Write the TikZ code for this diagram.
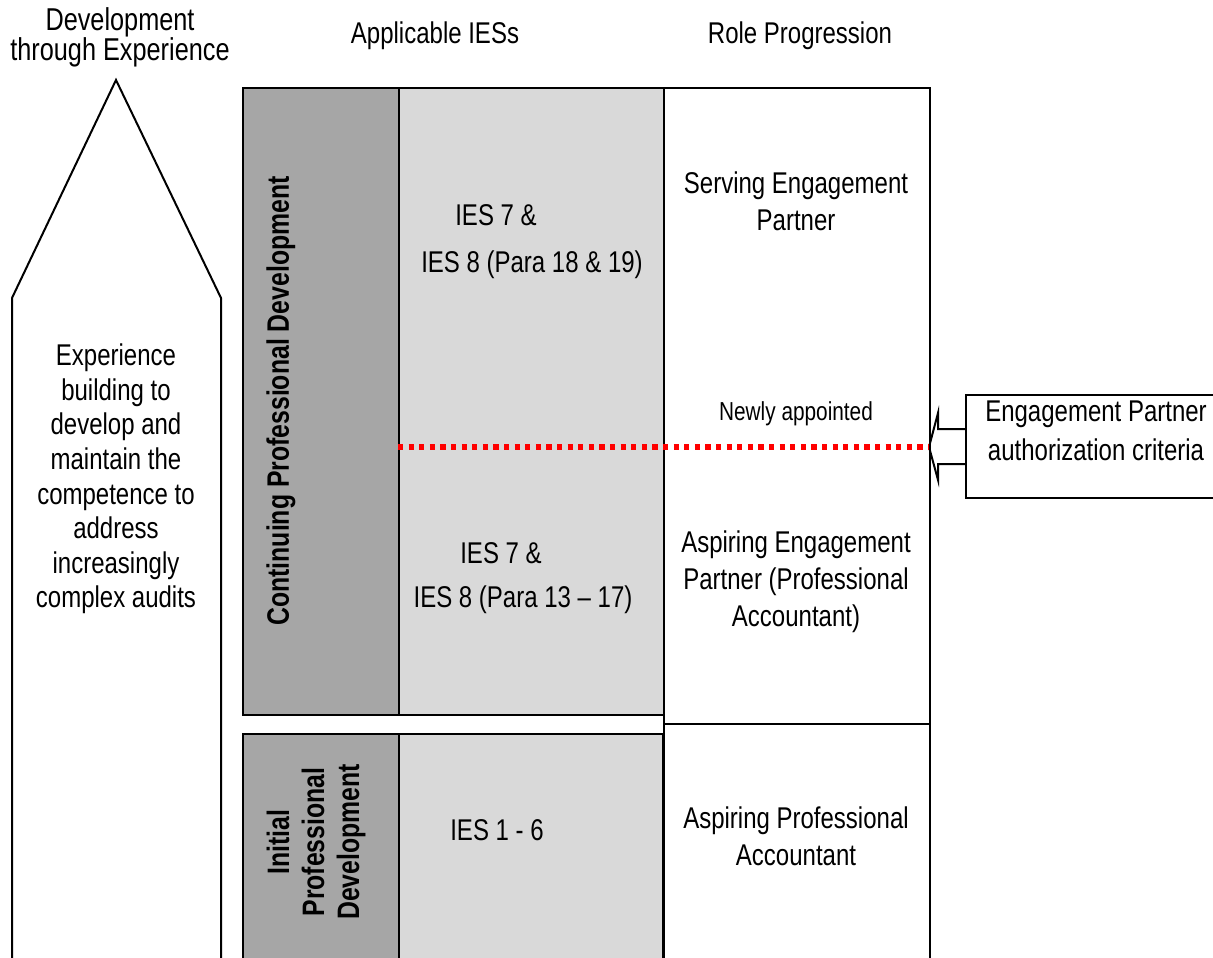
\documentclass[tikz,border=0pt]{standalone}
\usepackage{fontspec}
\setmainfont{Liberation Sans}[FakeStretch=0.8]
\usetikzlibrary{positioning}
\definecolor{cpdgrey}{HTML}{A6A6A6}
\definecolor{iesgrey}{HTML}{D9D9D9}

\begin{document}
\begin{tikzpicture}[
    x=0.5pt, y=-0.5pt,
    box/.style={draw, line width=1.1pt, inner sep=0pt, anchor=north west},
    dark/.style={box, fill=cpdgrey},
    light/.style={box, fill=iesgrey},
    lbl/.style={align=center, inner sep=0pt, font=\fontsize{15}{18.5}\selectfont},
    vlbl/.style={align=center, inner sep=0pt, rotate=90, font=\bfseries\fontsize{15.5}{17.5}\selectfont},
    reddot/.style={red, line width=2.8pt, dash pattern=on 2.6pt off 2.7pt},
]
\useasboundingbox (0,0) rectangle (1213,957);
\clip (0,0) rectangle (1213,957);

% ---- Koloni ----
\draw[line width=1pt] (12,975) -- (12,298) -- (116,80) -- (221,298) -- (221,975);

\node[dark, minimum width=78pt, minimum height=313.5pt] (cpd) at (242,87) {};
\node[light, minimum width=132.5pt, minimum height=313.5pt] (cpdies) at (398,87) {};
\node[box, minimum width=133pt, minimum height=318pt] (rolecpd) at (663,87) {};

\node[dark, minimum width=78pt, minimum height=125pt] (ipd) at (242,733) {};
\node[light, minimum width=132pt, minimum height=125pt] (ipdies) at (398,733) {};
\node[box, minimum width=133pt, minimum height=130pt] (roleipd) at (663,723) {};

% ---- Kriteriji ----
\node[box, minimum width=150pt, minimum height=51.5pt] (criteria) at (965,394) {};
\coordinate (crittip) at (929,447);
\draw[line width=1pt] (965,429) -- (938,429) -- (938,413) -- (crittip) -- (938,480) -- (938,464) -- (965,464);

\coordinate (apptstart) at (398,447);
\draw[reddot] (apptstart) -- (crittip);

% ---- Naslovi ----
\node[lbl, font=\fontsize{15.8}{15}\selectfont] (devhead) at (120,37) {Development\\through Experience};
\node[lbl] (ieshead) at (435,36) {Applicable IESs};
\node[lbl] (rolehead) at (800,36) {Role Progression};

% ---- Tekstovi ----
\node[lbl, font=\fontsize{15}{17.3}\selectfont] (experience) at (116,479)
  {Experience\\building to\\develop and\\maintain the\\competence to\\address\\increasingly\\complex audits};
\node[vlbl] (cpdlbl) at (281,401) {Continuing Professional Development};
\node[vlbl] (ipdlbl) at (316,842) {Initial\\Professional\\Development};

\node[lbl] (ies7a) at (496,215) {IES 7 \&};
\node[lbl] (ies8a) at (532,265) {IES 8 (Para 18 \& 19)};
\node[lbl] (ies7b) at (501,553) {IES 7 \&};
\node[lbl] (ies8b) at (523,600) {IES 8 (Para 13 – 17)};
\node[lbl] (ies16) at (497,830) {IES 1 - 6};

\node[lbl] (serving) at (796,201) {Serving Engagement\\Partner};
\node[lbl, font=\fontsize{13}{15}\selectfont] (newly) at (796,414) {Newly appointed};
\node[lbl] (aspep) at (796,582) {Aspiring Engagement\\Partner (Professional\\Accountant)};
\node[lbl] (asppa) at (796,836) {Aspiring Professional\\Accountant};
\node[lbl, font=\fontsize{15}{19.5}\selectfont] (crittext) at (1096,431) {Engagement Partner\\authorization criteria};

\end{tikzpicture}
\end{document}
